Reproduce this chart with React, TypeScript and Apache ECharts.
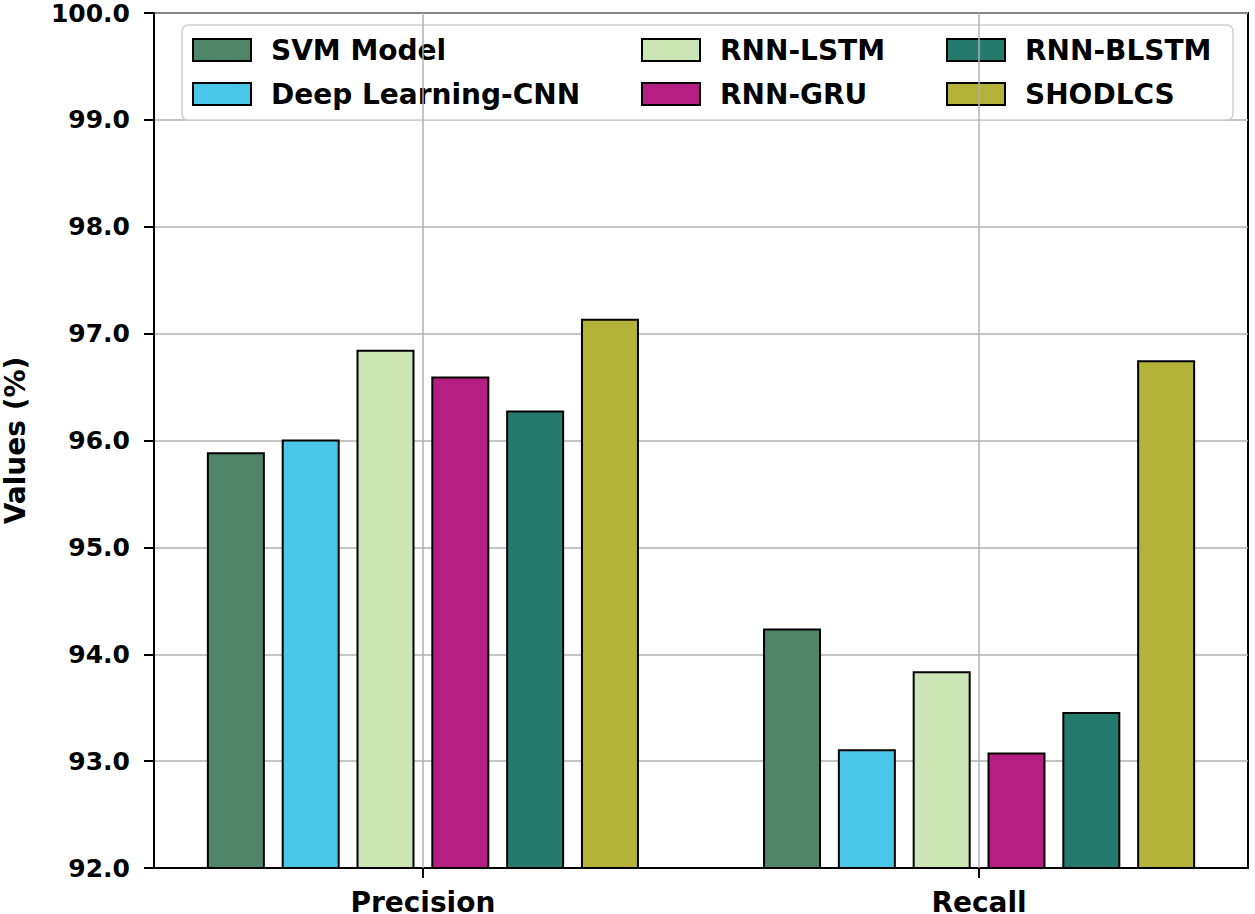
import React, { useEffect, useRef } from "react";
import * as echarts from "echarts";

const categories = ["Precision", "Recall"];
const seriesNames = ["SVM Model", "Deep Learning-CNN", "RNN-LSTM", "RNN-GRU", "RNN-BLSTM", "SHODLCS"];
const svmValues = [95.89, 94.24];
const cnnValues = [96.01, 93.11];
const lstmValues = [96.85, 93.84];
const gruValues = [96.6, 93.08];
const blstmValues = [96.28, 93.46];
const shodValues = [97.14, 96.75];
const seriesColors = ["#4f8569", "#4ac7e8", "#cce5b5", "#b51e82", "#257a6e", "#b2b338"];
const yMin = 92;
const yMax = 100;
const yInterval = 1;

const allValues = [svmValues, cnnValues, lstmValues, gruValues, blstmValues, shodValues];

const FONT = "DejaVu Sans";
const X_MIN = -0.4835;
const X_MAX = 1.4835;

export default function App() {
  const ref = useRef<HTMLDivElement>(null);
  useEffect(() => {
    if (!ref.current) return;
    const chart = echarts.init(ref.current, undefined, { renderer: "svg" });
    const series: any[] = seriesNames.map((name, i) => ({
      name,
      type: "bar",
      xAxisIndex: 0,
      barWidth: 58,
      barGap: "29%",
      data: allValues[i].map((v, k) => [k, v]),
      itemStyle: { color: seriesColors[i], borderColor: "#000", borderWidth: 2 },
      z: 2,
    }));
    series.push({
      name: "__grid",
      type: "line",
      xAxisIndex: 1,
      data: [],
      silent: true,
      z: 1,
      markLine: {
        silent: true,
        symbol: ["none", "none"],
        label: { show: false },
        lineStyle: { color: "#b0b0b0", type: "solid", width: 1.5 },
        data: categories.map((_, k) => ({ xAxis: k })),
      },
    });
    const legendCommon = {
      orient: "vertical",
      top: 31,
      itemWidth: 58,
      itemHeight: 22,
      itemGap: 16,
      icon: "rect",
      selectedMode: false,
      textStyle: { fontSize: 28, fontWeight: "bold", fontFamily: FONT, color: "#000", padding: [0, 0, 0, 15] },
    };
    chart.setOption({
      animation: false,
      backgroundColor: "#fff",
      grid: {
        left: 154,
        top: 13,
        right: 7,
        bottom: 46,
        show: true,
        borderColor: "#000",
        borderWidth: 2,
        containLabel: false,
        outerBoundsMode: "none",
      },
      graphic: [
        {
          type: "rect",
          z: 3,
          shape: { x: 182, y: 25, width: 1051, height: 95, r: 6 },
          style: { fill: "rgba(255,255,255,0.9)", stroke: "#d0d0d0", lineWidth: 1.5 },
        },
      ],
      legend: [
        { ...legendCommon, left: 187, data: [seriesNames[0], seriesNames[1]] },
        { ...legendCommon, left: 636, data: [seriesNames[2], seriesNames[3]] },
        { ...legendCommon, left: 941, data: [seriesNames[4], seriesNames[5]] },
      ],
      xAxis: [
        {
          type: "value",
          min: X_MIN,
          max: X_MAX,
          axisLine: { show: true, onZero: false, lineStyle: { color: "#000", width: 2 } },
          axisTick: { show: true, length: 10, lineStyle: { color: "#000", width: 2 }, customValues: [0, 1] },
          axisLabel: {
            customValues: [0, 1],
            formatter: (v: number) => categories[Math.round(v)] ?? "",
            margin: 20,
            fontSize: 28,
            fontWeight: "bold",
            fontFamily: FONT,
            color: "#000",
          },
          splitLine: { show: false },
        },
        {
          type: "value",
          min: X_MIN,
          max: X_MAX,
          show: false,
          position: "bottom",
          splitLine: { show: false },
        },
      ],
      yAxis: {
        type: "value",
        min: yMin,
        max: yMax,
        interval: yInterval,
        name: "Values (%)",
        nameLocation: "middle",
        nameGap: 125,
        nameTextStyle: { fontSize: 28, fontWeight: "bold", fontFamily: FONT, color: "#000" },
        axisLine: { show: true, onZero: false, lineStyle: { color: "#000", width: 2 } },
        axisTick: { show: true, length: 10, lineStyle: { color: "#000", width: 2 } },
        axisLabel: {
          formatter: (v: number) => v.toFixed(1),
          margin: 24,
          fontSize: 25,
          fontWeight: "bold",
          fontFamily: FONT,
          color: "#000",
        },
        splitLine: { show: true, lineStyle: { color: "#b0b0b0", width: 1.5 } },
      },
      series,
    });
    return () => chart.dispose();
  }, []);
  return (
    <div
      ref={ref}
      style={{ position: "fixed", left: 0, top: 0, width: 1255, height: 914 }}
    />
  );
}
